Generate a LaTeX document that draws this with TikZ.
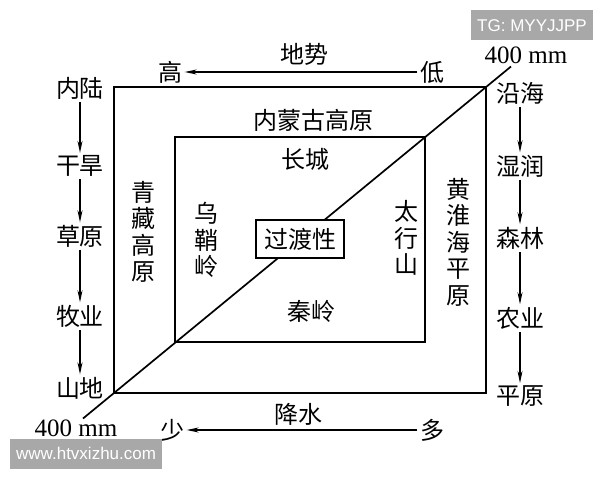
\documentclass[tikz,border=0pt]{standalone}
\usepackage{fontspec}
\setmainfont{Liberation Serif}
\newfontfamily\cjk{Noto Sans CJK SC}
\newfontfamily\wmfont{Liberation Sans}
\usetikzlibrary{arrows.meta}

\begin{document}
\begin{tikzpicture}[x=1pt, y=-1pt, frame/.style = {draw, line width=1.7pt}, word/.style = {font=\cjk\fontsize{24}{26.5}\selectfont, inner sep=0.5pt, align=center}, flow/.style = {-{Stealth[length=12pt,width=5pt]}, line width=1.1pt, shorten <=2pt, shorten >=2pt}, isoline/.style = {font=\fontsize{25}{28}\selectfont, inner sep=1pt}, wmark/.style = {fill=black!34, text=white, font=\wmfont\fontsize{17}{18}\selectfont, minimum height=30pt, inner xsep=6pt}]
\useasboundingbox (0,0) rectangle (600,480);

% frames and the 400 mm line
\coordinate (outerNW) at (114,87);
\coordinate (outerSE) at (486,393);
\coordinate (innerNW) at (175,137);
\coordinate (innerSE) at (425,342);
\coordinate (isoSW) at (83,418.5);
\coordinate (isoNE) at (511,66.5);
\draw[frame] (outerNW) rectangle (outerSE);
\draw[frame] (innerNW) rectangle (innerSE);
\draw[line width=1.7pt] (isoSW) -- (isoNE);
\node[isoline] (isoTop) at (526,55) {400 mm};
\node[isoline] (isoBot) at (76,428) {400 mm};

% relief and rainfall
\node[word] (relief) at (304,54) {地势};
\node[word] (high) at (170,72) {高};
\node[word] (low) at (432,72) {低};
\draw[flow] (low) -- (high);
\node[word] (rain) at (298,414) {降水};
\node[word] (few) at (172,430) {少};
\node[word] (much) at (432,430) {多};
\draw[flow] (much) -- (few);

% inland column
\node[word] (inland) at (80,88) {内陆};
\node[word] (dry) at (80,166) {干旱};
\node[word] (steppe) at (80,236) {草原};
\node[word] (herding) at (80,316) {牧业};
\node[word] (hills) at (80,388) {山地};
\draw[flow] (inland) -- (dry);
\draw[flow] (dry) -- (steppe);
\draw[flow] (steppe) -- (herding);
\draw[flow] (herding) -- (hills);

% coastal column
\node[word] (coast) at (520,93) {沿海};
\node[word] (humid) at (520,166) {湿润};
\node[word] (forest) at (520,238) {森林};
\node[word] (farming) at (520,318) {农业};
\node[word] (plain) at (520,396) {平原};
\draw[flow] (coast) -- (humid);
\draw[flow] (humid) -- (forest);
\draw[flow] (forest) -- (farming);
\draw[flow] (farming) -- (plain);

% regions
\node[word] (mongolia) at (313,120) {内蒙古高原};
\node[word] (wall) at (305,159) {长城};
\node[word] (qinling) at (311,311) {秦岭};
\node[word] (tibet) at (143,232) {青\\藏\\高\\原};
\node[word] (wushao) at (206,240) {乌\\鞘\\岭};
\node[word] (taihang) at (406,238) {太\\行\\山};
\node[word] (huanghuai) at (458,242) {黄\\淮\\海\\平\\原};
\node[word, draw, line width=1.5pt, fill=white, minimum width=88pt, minimum height=38pt] (transit) at (300,239) {过渡性};

% watermarks
\node[wmark, anchor=north east] (tg) at (593,10) {TG: MYYJJPP};
\node[wmark, anchor=south west] (site) at (10,469) {www.htvxizhu.com};
\end{tikzpicture}
\end{document}
